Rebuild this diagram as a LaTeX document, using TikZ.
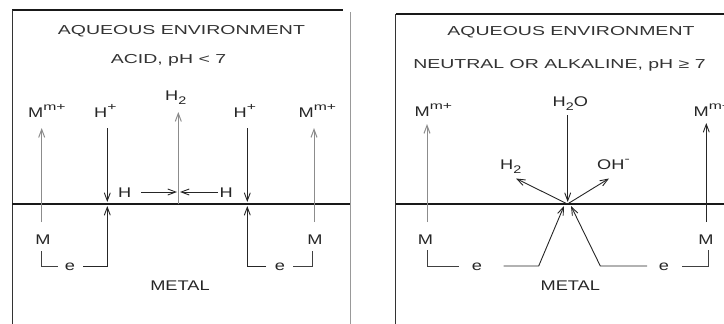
\documentclass[tikz,border=0pt]{standalone}
\usepackage{fontspec}
\setmainfont{Liberation Sans}
\newfontfamily\ttlfont{Liberation Sans}[FakeStretch=1.5]
\newfontfamily\lblfont{Liberation Sans}[FakeStretch=1.3]
\newcommand\mysup[1]{\raisebox{0.45em}{\ttlfont\fontsize{10.5}{10}\selectfont #1}}
\newcommand\mysub[1]{\raisebox{-0.3em}{\lblfont\fontsize{11}{10}\selectfont #1}}
\usetikzlibrary{arrows.meta}
\begin{document}
\begin{tikzpicture}[x=1pt,y=-1pt,
  ttl/.style={font=\ttlfont\fontsize{13}{14}\selectfont, text=black!80, inner sep=0pt},
  lbl/.style={font=\lblfont\fontsize{14}{15}\selectfont, text=black!85, inner sep=0pt},
  frame/.style={line width=1.4pt, black!90},
  border/.style={line width=1pt, black!80},
  lightborder/.style={line width=1pt, black!40},
  ar/.style={-{Straight Barb[length=8pt,width=6pt]}, line width=0.9pt, black!85},
  grayar/.style={ar, black!45, line width=1pt},
  wire/.style={line width=0.9pt, black!75}]
\useasboundingbox (0,0) rectangle (724,324);
\clip (0,0) rectangle (724,324);

% ---------- left panel frame ----------
\coordinate (LTL) at (12,10);
\coordinate (LTR) at (343,10);
\coordinate (LBL) at (12,324);
\coordinate (LRT) at (350,12);
\coordinate (LRB) at (350,324);
\coordinate (LIL) at (12,204);
\coordinate (LIR) at (350,204);
\draw[frame] (LTL) -- (LTR);
\draw[border] (LTL) -- (LBL);
\draw[lightborder] (LRT) -- (LRB);
\draw[frame] (LIL) -- (LIR);

% ---------- left panel texts ----------
\node[ttl] (t1) at (181.5,31.5) {AQUEOUS ENVIRONMENT};
\node[ttl] (t2) at (168.5,60) {ACID, pH < 7};
\node[lbl, anchor=base west] (mm1) at (28,117) {M\mysup{m+}};
\node[lbl, anchor=base west] (hp1) at (94,117) {H\mysup{+}};
\node[lbl, anchor=base west] (h2a) at (165,100) {H\mysub{2}};
\node[lbl, anchor=base west] (hp2) at (233.5,117) {H\mysup{+}};
\node[lbl, anchor=base west] (mm2) at (298.5,117) {M\mysup{m+}};
\node[lbl, anchor=base west] (hL) at (118,197) {H};
\node[lbl, anchor=base east] (hR) at (233,197) {H};
\node[lbl, anchor=base] (m1) at (43,244) {M};
\node[lbl, anchor=base] (m2) at (315,244) {M};
\node[lbl] (e1) at (70,267) {e};
\node[lbl] (e2) at (280,267) {e};
\node[lbl] (metal1) at (180,286) {METAL};

% ---------- left panel arrows ----------
\coordinate (a1s) at (41.7,222); \coordinate (a1t) at (41.7,128);
\draw[grayar] (a1s) -- (a1t);
\coordinate (a2s) at (107.3,128); \coordinate (a2t) at (107.3,202);
\draw[ar] (a2s) -- (a2t);
\coordinate (a3s) at (178.3,204); \coordinate (a3t) at (178.3,112);
\draw[grayar] (a3s) -- (a3t);
\coordinate (a4s) at (247.3,128); \coordinate (a4t) at (247.3,202);
\draw[ar] (a4s) -- (a4t);
\coordinate (a5s) at (314,222); \coordinate (a5t) at (314,128);
\draw[grayar] (a5s) -- (a5t);
\coordinate (hLs) at (141,192); \coordinate (hLt) at (177,192);
\draw[ar] (hLs) -- (hLt);
\coordinate (hRs) at (218,192); \coordinate (hRt) at (180,192);
\draw[ar] (hRs) -- (hRt);
% electron paths
\coordinate (p1a) at (41.7,251); \coordinate (p1b) at (41.7,266);
\coordinate (p1c) at (58,266); \coordinate (p1d) at (83,266);
\coordinate (p1e) at (107.3,266); \coordinate (p1f) at (107.3,206);
\draw[wire] (p1a) -- (p1b) -- (p1c);
\draw[ar] (p1d) -- (p1e) -- (p1f);
\coordinate (p2a) at (312.3,251); \coordinate (p2b) at (312.3,266);
\coordinate (p2c) at (293,266); \coordinate (p2d) at (266,266);
\coordinate (p2e) at (247.3,266); \coordinate (p2f) at (247.3,206);
\draw[wire] (p2a) -- (p2b) -- (p2c);
\draw[ar] (p2d) -- (p2e) -- (p2f);

% ---------- right panel frame ----------
\coordinate (RTL) at (395.5,14);
\coordinate (RTR) at (724,14);
\coordinate (RBL) at (395.5,324);
\coordinate (RIL) at (395.5,204);
\coordinate (RIR) at (724,204);
\draw[frame] (RTL) -- (RTR);
\draw[border] (RTL) -- (RBL);
\draw[frame] (RIL) -- (RIR);

% ---------- right panel texts ----------
\node[ttl] (t3) at (571,31.7) {AQUEOUS ENVIRONMENT};
\node[ttl] (t4) at (559.5,65) {NEUTRAL OR ALKALINE, pH ≥ 7};
\node[lbl, anchor=base west] (mm3) at (414.5,116) {M\mysup{m+}};
\node[lbl, anchor=base west] (h2o) at (552.5,106.5) {H\mysub{2}O};
\node[lbl, anchor=base west] (h2b) at (500,169) {H\mysub{2}};
\node[lbl, anchor=base west] (oh) at (597,169) {OH\mysup{-}};
\node[lbl, anchor=base west] (mm4) at (693.5,116) {M\mysup{m+}};
\node[lbl, anchor=base] (m3) at (425.5,244) {M};
\node[lbl, anchor=base] (m4) at (706,244) {M};
\node[lbl] (e3) at (477,267) {e};
\node[lbl] (e4) at (664,267) {e};
\node[lbl] (metal2) at (570.3,286) {METAL};

% ---------- right panel arrows ----------
\coordinate (b1s) at (427,222); \coordinate (b1t) at (427,124);
\draw[grayar] (b1s) -- (b1t);
\coordinate (b2s) at (567.7,115); \coordinate (b2t) at (567.7,202);
\draw[ar] (b2s) -- (b2t);
\coordinate (ctr) at (567.5,204);
\coordinate (b3t) at (516,178.5);
\coordinate (b4t) at (609,178.5);
\draw[ar] (ctr) -- (b3t);
\draw[ar] (ctr) -- (b4t);
\coordinate (b5s) at (706.3,222); \coordinate (b5t) at (706.3,123);
\draw[ar] (b5s) -- (b5t);
% electron paths
\coordinate (q1a) at (427.7,250); \coordinate (q1b) at (427.7,266);
\coordinate (q1c) at (459,266); \coordinate (q1d) at (503.7,266);
\coordinate (q1e) at (538.7,266); \coordinate (q1f) at (564,206);
\draw[wire] (q1a) -- (q1b) -- (q1c);
\draw[ar] (q1d) -- (q1e) -- (q1f);
\coordinate (q2a) at (708.7,250); \coordinate (q2b) at (708.7,266);
\coordinate (q2c) at (682,266); \coordinate (q2d) at (647,266);
\coordinate (q2e) at (600.3,266); \coordinate (q2f) at (571,206);
\draw[wire] (q2a) -- (q2b) -- (q2c);
\draw[ar] (q2d) -- (q2e) -- (q2f);
\end{tikzpicture}
\end{document}
